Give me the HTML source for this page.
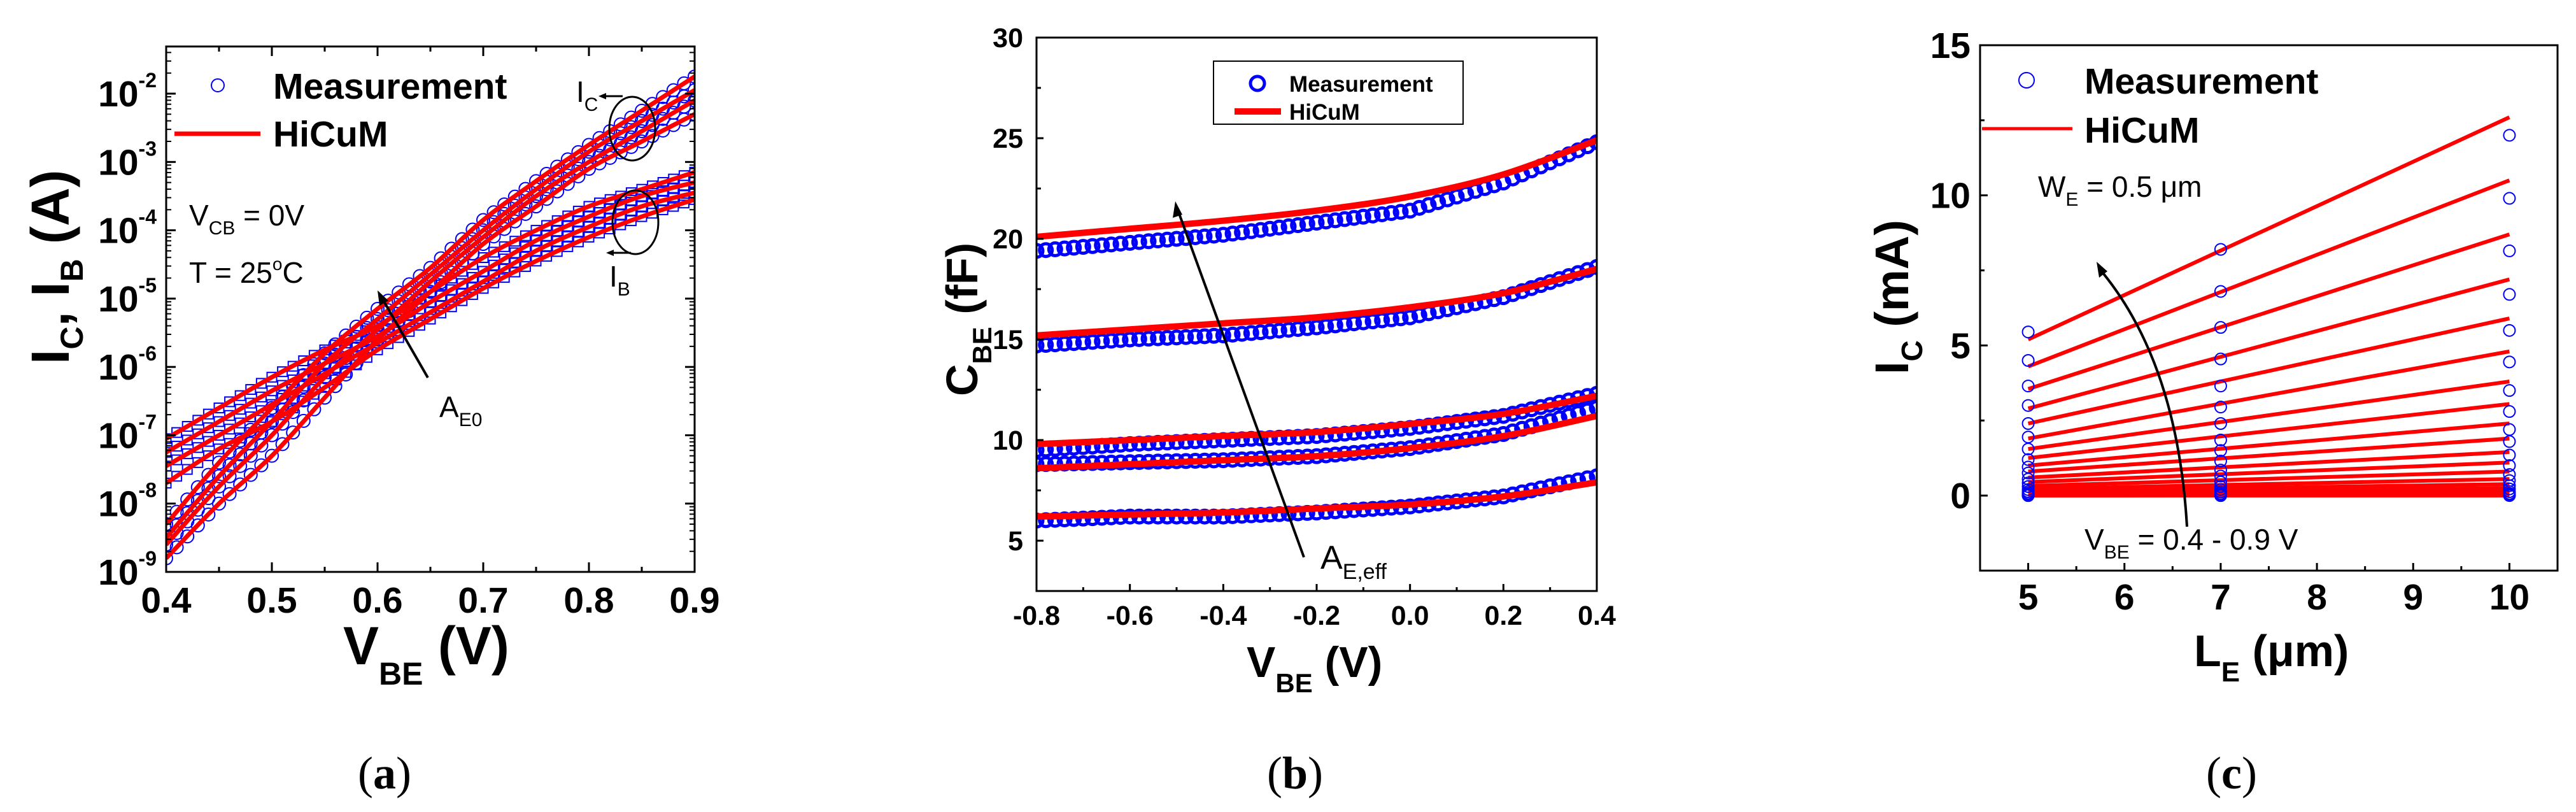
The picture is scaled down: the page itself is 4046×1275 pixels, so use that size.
<!DOCTYPE html>
<html><head><meta charset="utf-8"><style>
html,body{margin:0;padding:0;background:#fff;}
svg{display:block;font-family:"Liberation Sans",Arial,sans-serif;}
</style></head><body>
<svg id="fig" width="4046" height="1275" viewBox="0 0 4046 1275" xmlns="http://www.w3.org/2000/svg">
<g id="pa"></g>
<g id="pb"></g>
<g id="pc"></g>
</svg>
<script>
// ---------- Panel (a) data ----------
const aVbe = [0.4,0.45,0.5,0.55,0.6,0.65,0.7,0.75,0.8,0.85,0.9];
const aIC1 = [-8.3,-7.4,-6.6,-5.8,-5.15,-4.55,-3.85,-3.28,-2.75,-2.25,-1.75];
const aIC2 = [-8.5,-7.6,-6.8,-5.95,-5.3,-4.65,-4.0,-3.4,-2.85,-2.4,-1.95];
const aIC3 = [-8.6,-7.75,-7.0,-6.15,-5.45,-4.75,-4.1,-3.5,-3.0,-2.55,-2.1];
const aIC4 = [-8.8,-8.0,-7.3,-6.45,-5.6,-4.9,-4.2,-3.65,-3.1,-2.7,-2.3];
const aIB1 = [-7.05,-6.6,-6.15,-5.75,-5.4,-4.9,-4.4,-4.0,-3.65,-3.4,-3.15];
const aIB2 = [-7.25,-6.8,-6.35,-5.95,-5.55,-5.05,-4.6,-4.15,-3.8,-3.5,-3.3];
const aIB3 = [-7.45,-7.0,-6.55,-6.1,-5.65,-5.2,-4.75,-4.3,-3.95,-3.65,-3.45];
const aIB4 = [-7.7,-7.2,-6.8,-6.3,-5.75,-5.3,-4.85,-4.45,-4.1,-3.8,-3.55];
const aXTicks = ["0.4","0.5","0.6","0.7","0.8","0.9"];
const aYDecades = [-9,-8,-7,-6,-5,-4,-3,-2];
// ---------- Panel (b) data ----------
const bV = [-0.8,-0.6,-0.4,-0.2,0.0,0.2,0.4];
const bModel1 = [20.1,20.5,20.9,21.4,22.1,23.2,24.9];
const bMeas1  = [19.4,19.8,20.2,20.8,21.4,22.8,24.8];
const bModel2 = [15.2,15.5,15.8,16.1,16.6,17.3,18.5];
const bMeas2  = [14.7,15.0,15.2,15.6,16.1,17.1,18.6];
const bModel3 = [9.8,10.0,10.2,10.4,10.8,11.3,12.2];
const bMeas3  = [9.5,9.8,10.0,10.2,10.6,11.2,12.3];
const bModel4 = [8.6,8.8,9.0,9.2,9.6,10.2,11.2];
const bMeas4  = [8.8,8.9,9.0,9.2,9.6,10.3,11.6];
const bModel5 = [6.2,6.3,6.4,6.6,6.8,7.2,7.9];
const bMeas5  = [6.0,6.2,6.2,6.4,6.7,7.2,8.2];
const bXTicks = ["-0.8","-0.6","-0.4","-0.2","0.0","0.2","0.4"];
const bYTicks = ["5","10","15","20","25","30"];
// ---------- Panel (c) data ----------
const cLE = [5,7,10];
const cModelL5  = [5.2,4.3,3.55,2.9,2.4,1.9,1.55,1.25,1.0,0.8,0.6,0.45,0.32,0.22,0.15,0.1,0.06,0.03,0.01,0.0,0.0];
const cModelL10 = [12.6,10.5,8.7,7.2,5.9,4.8,3.8,3.05,2.4,1.9,1.45,1.1,0.8,0.55,0.38,0.25,0.15,0.08,0.03,0.01,0.0];
const cMeasL5  = [5.45,4.5,3.65,3.0,2.4,1.95,1.55,1.2,0.95,0.75,0.55,0.42,0.3,0.2,0.13,0.08,0.05,0.02,0.01,0.0,0.0];
const cMeasL7  = [8.2,6.8,5.6,4.55,3.65,2.95,2.4,1.85,1.5,1.15,0.85,0.65,0.45,0.3,0.2,0.12,0.07,0.03,0.01,0.0,0.0];
const cMeasL10 = [12.0,9.9,8.15,6.7,5.5,4.45,3.5,2.8,2.2,1.8,1.35,1.0,0.7,0.5,0.33,0.22,0.13,0.07,0.03,0.01,0.0];
const cXTicks = ["5","6","7","8","9","10"];
const cYTicks = ["0","5","10","15"];

const NS="http://www.w3.org/2000/svg";
function mk(parent,tag,attrs){const e=document.createElementNS(NS,tag);for(const k in attrs)e.setAttribute(k,attrs[k]);parent.appendChild(e);return e;}
function lerpPts(xs,ys,step){const out=[];for(let i=0;i<xs.length-1;i++){const n=Math.round((xs[i+1]-xs[i])/step);for(let j=0;j<n;j++){const t=j/n;out.push([xs[i]+(xs[i+1]-xs[i])*t,ys[i]+(ys[i+1]-ys[i])*t]);}}out.push([xs[xs.length-1],ys[ys.length-1]]);return out;}
function smoothPath(P){let d='M'+P[0][0]+','+P[0][1];for(let i=0;i<P.length-1;i++){const p0=P[i-1]||P[i],p1=P[i],p2=P[i+1],p3=P[i+2]||P[i+1];
const c1=[p1[0]+(p2[0]-p0[0])/6,p1[1]+(p2[1]-p0[1])/6],c2=[p2[0]-(p3[0]-p1[0])/6,p2[1]-(p3[1]-p1[1])/6];d+=' C'+c1[0]+','+c1[1]+' '+c2[0]+','+c2[1]+' '+p2[0]+','+p2[1];}return d;}

// ===== Panel A =====
(function(){
const g=document.getElementById('pa');
const X0=261,X1=1091,Y0=73,Y1=898;
const ax=v=>X0+(v-0.4)/0.5*(X1-X0);
const ay=l=>Y1-(l+9)/(7.69)*(Y1-Y0);
const clip=mk(g,'clipPath',{id:'clipA'});mk(clip,'rect',{x:X0,y:Y0,width:X1-X0,height:Y1-Y0});
const data=mk(g,'g',{'clip-path':'url(#clipA)'});


[aIB1,aIB2,aIB3,aIB4].forEach((s,k)=>{lerpPts(aVbe,s,0.01).forEach(p=>{const r=mk(data,'rect',{x:ax(p[0])-7.5,y:ay(p[1])-7.5,width:15,height:15,fill:'none',stroke:'#0000ff','stroke-width':2});

});});
[aIC1,aIC2,aIC3,aIC4].forEach((s,k)=>{lerpPts(aVbe,s,0.01).forEach(p=>{const c=mk(data,'circle',{cx:ax(p[0]),cy:ay(p[1]),r:10,fill:'none',stroke:'#0000ff','stroke-width':2});

});});
[aIB1,aIB2,aIB3,aIB4,aIC1,aIC2,aIC3,aIC4].forEach((s,k)=>{const l=mk(data,'path',{d:smoothPath(aVbe.map((v,i)=>[ax(v),ay(s[i])])),fill:'none',stroke:'#ff0000','stroke-width':7,'stroke-linejoin':'round'});

});
mk(g,'rect',{x:X0,y:Y0,width:X1-X0,height:Y1-Y0,fill:'none',stroke:'#000','stroke-width':3});
for(let i=0;i<=10;i++){const v=0.4+i*0.05,x=ax(v),len=i%2?8:15;mk(g,'line',{x1:x,y1:Y1,x2:x,y2:Y1-len,stroke:'#000','stroke-width':3});mk(g,'line',{x1:x,y1:Y0,x2:x,y2:Y0+len,stroke:'#000','stroke-width':3});}
aXTicks.forEach((t,i)=>{const tx=mk(g,'text',{x:ax(0.4+i*0.1),y:962,'font-size':57,'font-weight':'bold','text-anchor':'middle'});tx.textContent=t;

});
aYDecades.forEach(d=>{const y=ay(d);mk(g,'line',{x1:X0,y1:y,x2:X0+15,y2:y,stroke:'#000','stroke-width':3});mk(g,'line',{x1:X1,y1:y,x2:X1-15,y2:y,stroke:'#000','stroke-width':3});
for(let m=2;m<=9;m++){const ym=ay(d+Math.log10(m));if(ym<Y0)continue;mk(g,'line',{x1:X0,y1:ym,x2:X0+8,y2:ym,stroke:'#000','stroke-width':2});mk(g,'line',{x1:X1,y1:ym,x2:X1-8,y2:ym,stroke:'#000','stroke-width':2});}
const tx=mk(g,'text',{x:246,y:y+20,'font-size':57,'font-weight':'bold','text-anchor':'end'});tx.innerHTML='10<tspan dy="-30" font-size="32">'+d+'</tspan>';

});
const add=(html)=>{g.insertAdjacentHTML('beforeend',html);};
add('<text x="539" y="1043" font-size="84" font-weight="bold">V<tspan font-size="50" dy="32">BE</tspan><tspan dy="-32"> (V)</tspan></text>');
add('<text transform="translate(108,572) rotate(-90)" font-size="84" font-weight="bold">I<tspan font-size="50" dy="22">C</tspan><tspan dy="-22">, I</tspan><tspan font-size="50" dy="22">B</tspan><tspan dy="-22"> (A)</tspan></text>');
add('<circle cx="342" cy="134" r="10" fill="none" stroke="#0000ff" stroke-width="2"/>');
add('<text x="429" y="155" font-size="57" font-weight="bold">Measurement</text>');
add('<line x1="274" y1="210" x2="409" y2="210" stroke="#ff0000" stroke-width="7"/>');
add('<text x="429" y="230" font-size="57" font-weight="bold">HiCuM</text>');
add('<text x="297" y="354" font-size="46">V<tspan font-size="30" dy="14">CB</tspan><tspan dy="-14"> = 0V</tspan></text>');
add('<text x="297" y="444" font-size="46">T = 25<tspan font-size="28" dy="-20">o</tspan><tspan dy="20">C</tspan></text>');
add('<line x1="672" y1="593" x2="600" y2="468" stroke="#000" stroke-width="4"/><polygon points="593,456 596,480 610,472" fill="#000"/>');
add('<text x="690" y="655" font-size="46">A<tspan font-size="30" dy="14">E0</tspan></text>');
add('<ellipse cx="993" cy="202" rx="36" ry="50" fill="none" stroke="#000" stroke-width="3"/>');
add('<line x1="978" y1="151" x2="948" y2="151" stroke="#000" stroke-width="3"/><polygon points="940,151 952,146 952,156" fill="#000"/>');
add('<text x="905" y="160" font-size="46">I<tspan font-size="30" dy="14">C</tspan></text>');
add('<ellipse cx="998" cy="349" rx="36" ry="50" fill="none" stroke="#000" stroke-width="3"/>');
add('<line x1="991" y1="397" x2="960" y2="397" stroke="#000" stroke-width="3"/><polygon points="952,397 964,392 964,402" fill="#000"/>');
add('<text x="957" y="450" font-size="46">I<tspan font-size="30" dy="14">B</tspan></text>');
add('<text x="604" y="1238" font-size="72" font-family="Liberation Serif, serif" text-anchor="middle">(<tspan font-weight="bold">a</tspan>)</text>');
})();

// ===== Panel B =====
(function(){
const g=document.getElementById('pb');
const X0=1628,X1=2508,Y0=59,Y1=928;
const bx=v=>X0+(v+0.8)/1.2*(X1-X0);
const by=c=>Y1-(c-2.5)/27.5*(Y1-Y0);
const clip=mk(g,'clipPath',{id:'clipB'});mk(clip,'rect',{x:X0,y:Y0,width:X1-X0,height:Y1-Y0});
const data=mk(g,'g',{'clip-path':'url(#clipB)'});


[bMeas1,bMeas2,bMeas3,bMeas4,bMeas5].forEach(s=>{lerpPts(bV,s,0.02).forEach(p=>{const c=mk(data,'circle',{cx:bx(p[0]),cy:by(p[1]),r:10,fill:'none',stroke:'#0000ff','stroke-width':5});

});});
[bModel1,bModel2,bModel3,bModel4,bModel5].forEach(s=>{const l=mk(data,'path',{d:smoothPath(bV.map((v,i)=>[bx(v),by(s[i])])),fill:'none',stroke:'#ff0000','stroke-width':10});

});
mk(g,'rect',{x:X0,y:Y0,width:X1-X0,height:Y1-Y0,fill:'none',stroke:'#000','stroke-width':3});
for(let i=0;i<=12;i++){const x=bx(-0.8+i*0.1),len=i%2?6:11;mk(g,'line',{x1:x,y1:Y1,x2:x,y2:Y1-len,stroke:'#000','stroke-width':3});}
for(let i=0;i<=10;i++){const y=by(5+i*2.5),len=i%2?7:11;mk(g,'line',{x1:X0,y1:y,x2:X0+len,y2:y,stroke:'#000','stroke-width':3});}
bXTicks.forEach((t,i)=>{const tx=mk(g,'text',{x:bx(-0.8+i*0.2),y:981,'font-size':43,'font-weight':'bold','text-anchor':'middle'});tx.textContent=t;

});
bYTicks.forEach(t=>{const tx=mk(g,'text',{x:1607,y:by(+t)+15,'font-size':43,'font-weight':'bold','text-anchor':'end'});tx.textContent=t;

});
const add=(html)=>{g.insertAdjacentHTML('beforeend',html);};
add('<text x="1958" y="1063" font-size="68" font-weight="bold">V<tspan font-size="42" dy="24">BE</tspan><tspan dy="-24"> (V)</tspan></text>');
add('<text transform="translate(1535,622) rotate(-90)" font-size="70" font-weight="bold">C<tspan font-size="42" dy="22">BE</tspan><tspan dy="-22"> (fF)</tspan></text>');
add('<rect x="1906" y="96" width="392" height="99" fill="#fff" stroke="#000" stroke-width="2"/>');
add('<circle cx="1975" cy="131" r="11" fill="none" stroke="#0000ff" stroke-width="5"/>');
add('<text x="2025" y="144" font-size="35" font-weight="bold">Measurement</text>');
add('<line x1="1939" y1="175" x2="2012" y2="175" stroke="#ff0000" stroke-width="10"/>');
add('<text x="2025" y="188" font-size="35" font-weight="bold">HiCuM</text>');
add('<line x1="2048" y1="875" x2="1850" y2="330" stroke="#000" stroke-width="4"/><polygon points="1846,316 1842,342 1857,337" fill="#000"/>');
add('<text x="2074" y="893" font-size="52">A<tspan font-size="34" dy="16">E,eff</tspan></text>');
add('<text x="2034" y="1238" font-size="72" font-family="Liberation Serif, serif" text-anchor="middle">(<tspan font-weight="bold">b</tspan>)</text>');
})();

// ===== Panel C =====
(function(){
const g=document.getElementById('pc');
const X0=3110,X1=4017,Y0=71,Y1=896;
const cx=v=>X0+(v-4.5)/6*(X1-X0);
const cy=v=>Y1-(v+2.5)/17.5*(Y1-Y0);
const clip=mk(g,'clipPath',{id:'clipC'});mk(clip,'rect',{x:X0,y:Y0,width:X1-X0,height:Y1-Y0});
const data=mk(g,'g',{'clip-path':'url(#clipC)'});


cModelL5.forEach((v,i)=>{const l=mk(data,'line',{x1:cx(5),y1:cy(v),x2:cx(10),y2:cy(cModelL10[i]),stroke:'#ff0000','stroke-width':6});

});
[cMeasL5,cMeasL7,cMeasL10].forEach((s,k)=>{s.forEach(v=>{const c=mk(data,'circle',{cx:cx(cLE[k]),cy:cy(v),r:9,fill:'none',stroke:'#0000ff','stroke-width':2});

});});
mk(g,'rect',{x:X0,y:Y0,width:X1-X0,height:Y1-Y0,fill:'none',stroke:'#000','stroke-width':3});
for(let i=0;i<=10;i++){const x=cx(5+i*0.5),len=i%2?7:12;mk(g,'line',{x1:x,y1:Y1,x2:x,y2:Y1-len,stroke:'#000','stroke-width':3});}
for(let i=0;i<=6;i++){const y=cy(0+i*2.5),len=i%2?7:12;mk(g,'line',{x1:X0,y1:y,x2:X0+len,y2:y,stroke:'#000','stroke-width':3});}
cXTicks.forEach((t,i)=>{const tx=mk(g,'text',{x:cx(5+i),y:957,'font-size':57,'font-weight':'bold','text-anchor':'middle'});tx.textContent=t;

});
cYTicks.forEach(t=>{const tx=mk(g,'text',{x:3095,y:cy(+t)+20,'font-size':57,'font-weight':'bold','text-anchor':'end'});tx.textContent=t;

});
const add=(html)=>{g.insertAdjacentHTML('beforeend',html);};
add('<text x="3446" y="1046" font-size="70" font-weight="bold">L<tspan font-size="44" dy="24">E</tspan><tspan dy="-24"> (μm)</tspan></text>');
add('<text transform="translate(2997,588) rotate(-90)" font-size="74" font-weight="bold">I<tspan font-size="46" dy="22">C</tspan><tspan dy="-22"> (mA)</tspan></text>');
add('<circle cx="3183" cy="126" r="12" fill="none" stroke="#0000ff" stroke-width="2"/>');
add('<text x="3274" y="147" font-size="57" font-weight="bold">Measurement</text>');
add('<line x1="3113" y1="202" x2="3255" y2="202" stroke="#ff0000" stroke-width="5"/>');
add('<text x="3274" y="224" font-size="57" font-weight="bold">HiCuM</text>');
add('<text x="3201" y="309" font-size="46">W<tspan font-size="30" dy="14">E</tspan><tspan dy="-14"> = 0.5 μm</tspan></text>');
add('<text x="3274" y="863" font-size="46">V<tspan font-size="30" dy="14">BE</tspan><tspan dy="-14"> = 0.4 - 0.9 V</tspan></text>');
add('<path d="M3435,827 Q3420,570 3300,425" fill="none" stroke="#000" stroke-width="4"/><polygon points="3293,411 3297,436 3310,426" fill="#000"/>');
add('<text x="3505" y="1238" font-size="72" font-family="Liberation Serif, serif" text-anchor="middle">(<tspan font-weight="bold">c</tspan>)</text>');
})();
</script>
</body></html>
